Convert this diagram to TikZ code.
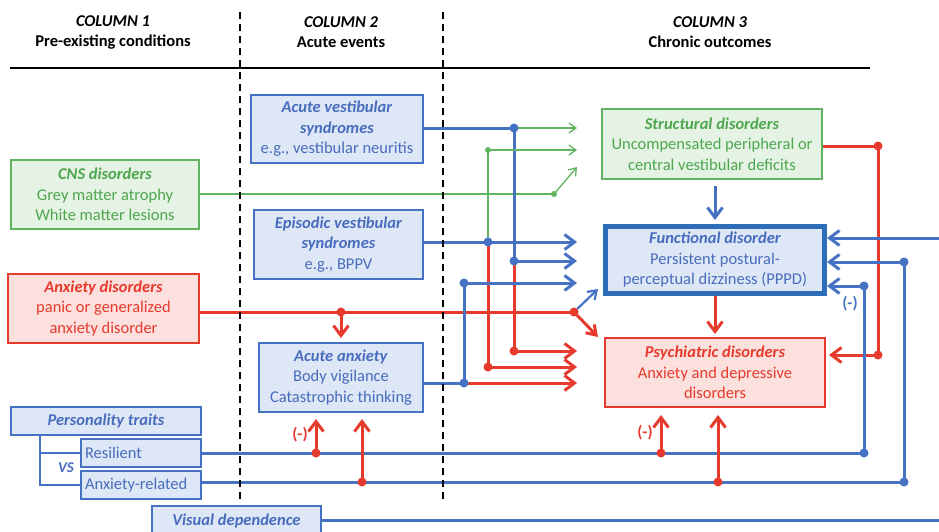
\documentclass[tikz,border=0pt]{standalone}
\usepackage{fontspec}
\setmainfont{Carlito}
\usetikzlibrary{arrows.meta}

\definecolor{lineblue}{RGB}{70,114,196}
\definecolor{fillblue}{RGB}{222,231,245}
\definecolor{textblue}{RGB}{72,108,190}
\definecolor{darkblue}{RGB}{46,110,184}
\definecolor{linered}{RGB}{230,58,45}
\definecolor{fillred}{RGB}{252,224,222}
\definecolor{linegreen}{RGB}{96,180,96}
\definecolor{fillgreen}{RGB}{228,243,228}
\definecolor{textgreen}{RGB}{78,166,78}

\begin{document}
\begin{tikzpicture}[x=1pt, y=-1pt]
  \useasboundingbox (0,0) rectangle (939,531);

  % Stile.
  \tikzstyle{box}=[rectangle, draw, line width=2pt, inner sep=0pt, align=center, font=\fontsize{16.5}{20.5}\selectfont]
  \tikzstyle{bluebox}=[box, draw=lineblue, fill=fillblue, text=textblue]
  \tikzstyle{redbox}=[box, draw=linered, fill=fillred, text=linered]
  \tikzstyle{greenbox}=[box, draw=linegreen, fill=fillgreen, text=textgreen]
  \tikzstyle{head}=[align=center, font=\fontsize{16.5}{20}\selectfont\bfseries]
  \tikzstyle{dot}=[circle, inner sep=0pt, minimum size=8pt]
  \tikzstyle{bdot}=[dot, fill=lineblue]
  \tikzstyle{rdot}=[dot, fill=linered]
  \tikzstyle{gdot}=[dot, fill=linegreen, minimum size=5pt]
  \tikzstyle{bline}=[draw=lineblue, line width=3pt]
  \tikzstyle{rline}=[draw=linered, line width=3pt]
  \tikzstyle{gline}=[draw=linegreen, line width=1.3pt]
  \tikzstyle{barrow}=[bline, -{Straight Barb[length=10pt, width=15pt]}]
  \tikzstyle{rarrow}=[rline, -{Straight Barb[length=10pt, width=15pt]}]
  \tikzstyle{garrow}=[gline, -{Straight Barb[length=7pt, width=10pt]}]
  \tikzstyle{minus}=[font=\fontsize{16.5}{18}\selectfont\bfseries]

  % Kopfzeile.
  \node[head] (c1) at (113,32) {\textit{COLUMN 1}\\Pre-existing conditions};
  \node[head] (c2) at (341,32) {\textit{COLUMN 2}\\Acute events};
  \node[head] (c3) at (710,32) {\textit{COLUMN 3}\\Chronic outcomes};
  \draw[line width=2.5pt] (10,68) -- (870,68);

  % Spalte 1.
  \node[greenbox, minimum width=188pt, minimum height=69pt] (cns) at (105,194.5)
    {\textit{\textbf{CNS disorders}}\\Grey matter atrophy\\White matter lesions};
  \node[redbox, minimum width=191pt, minimum height=69pt] (anx) at (103.5,308.5)
    {\textit{\textbf{Anxiety disorders}}\\panic or generalized\\anxiety disorder};
  \node[bluebox, minimum width=190pt, minimum height=28pt] (pers) at (106,421)
    {\textit{\textbf{Personality traits}}};
  \node[bluebox, minimum width=120pt, minimum height=28pt, align=left, text width=112pt] (res) at (141,453)
    {Resilient};
  \node[bluebox, minimum width=120pt, minimum height=28pt, align=left, text width=112pt] (anxrel) at (141,485)
    {Anxiety-related};
  \node[bluebox, minimum width=169pt, minimum height=30pt] (vis) at (236.5,521)
    {\textit{\textbf{Visual dependence}}};

  % Spalte 2.
  \node[bluebox, minimum width=172pt, minimum height=68pt] (avs) at (337,129)
    {\textit{\textbf{Acute vestibular}}\\\textit{\textbf{syndromes}}\\e.g., vestibular neuritis};
  \node[bluebox, minimum width=169pt, minimum height=69pt] (evs) at (338.5,244.5)
    {\textit{\textbf{Episodic vestibular}}\\\textit{\textbf{syndromes}}\\e.g., BPPV};
  \node[bluebox, minimum width=164pt, minimum height=69pt] (aca) at (341,377.5)
    {\textit{\textbf{Acute anxiety}}\\Body vigilance\\Catastrophic thinking};

  % Spalte 3.
  \node[greenbox, minimum width=220pt, minimum height=70pt] (str) at (712,144)
    {\textit{\textbf{Structural disorders}}\\Uncompensated peripheral or\\central vestibular deficits};
  \node[bluebox, draw=darkblue, line width=5pt, minimum width=219pt, minimum height=67pt] (fun) at (715,260)
    {\textit{\textbf{Functional disorder}}\\Persistent postural-\\perceptual dizziness (PPPD)};
  \node[redbox, minimum width=220pt, minimum height=69pt] (psy) at (715,372.5)
    {\textit{\textbf{Psychiatric disorders}}\\Anxiety and depressive\\disorders};

  % Knoten.
  \coordinate (tip) at (577,0);
  \coordinate (brk) at (40,0);
  \coordinate (edge) at (939,238);
  \coordinate (far) at (939,520);
  \coordinate (cnstip) at (577,167);
  \coordinate (funtip) at (598,289);
  \coordinate (psytip) at (598,337);
  \node[bdot] (j1) at (514,128) {};
  \node[bdot] (j2) at (514,261) {};
  \node[rdot] (j3) at (514,351) {};
  \node[bdot] (j4) at (488,242) {};
  \node[gdot] (j5) at (488,150) {};
  \node[rdot] (j6) at (488,367) {};
  \node[bdot] (j7) at (464,383) {};
  \node[bdot] (j8) at (464,283) {};
  \node[gdot] (j9) at (554,194) {};
  \node[rdot] (j10) at (574,312) {};
  \node[rdot] (j11) at (341,312) {};
  \node[rdot] (j12) at (878,146) {};
  \node[rdot] (j13) at (878,355) {};
  \node[bdot] (j14) at (904,262) {};
  \node[bdot] (j15) at (904,482) {};
  \node[bdot] (j16) at (864,286) {};
  \node[bdot] (j17) at (864,453) {};
  \node[rdot] (j18) at (316,453) {};
  \node[rdot] (j19) at (362,482) {};
  \node[rdot] (j20) at (661,453) {};
  \node[rdot] (j21) at (718,482) {};

  % Verbindungen links.
  \path[gline] (j9 -| cns.east) -- (j9);
  \draw[garrow] (j9) -- (cnstip);
  \path[rline] (j10 -| anx.east) -- (j10);
  \draw[rarrow, shorten >=4pt] (j11) -- (aca.north);
  \draw[barrow, line width=2.2pt, -{Straight Barb[length=8pt, width=11pt]}] (j10) -- (funtip);
  \draw[rarrow, -{Straight Barb[length=9pt, width=12pt]}] (j10) -- (psytip);

  \path[bline] (j1 -| avs.east) -- (j1);
  \draw[garrow] (j1) -- (j1 -| tip);
  \path[bline] (j1) -- (j2);
  \draw[barrow] (j2) -- (j2 -| tip);
  \path[rline] (j2) -- (j3);
  \draw[rarrow] (j3) -- (j3 -| tip);

  \path[bline] (j4 -| evs.east) -- (j4);
  \draw[barrow] (j4) -- (j4 -| tip);
  \path[gline] (j4) -- (j5);
  \draw[garrow] (j5) -- (j5 -| tip);
  \path[rline] (j4) -- (j6);
  \draw[rarrow] (j6) -- (j6 -| tip);

  \path[bline] (j7 -| aca.east) -- (j7);
  \draw[rarrow] (j7) -- (j7 -| tip);
  \path[bline] (j7) -- (j8);
  \draw[barrow] (j8) -- (j8 -| tip);

  % Verbindungen Spalte 3.
  \draw[barrow, shorten <=6pt, shorten >=4pt] (str.south -| fun.north) -- (fun.north);
  \draw[rarrow, shorten >=3pt] (fun.south) -- (psy.north);
  \path[rline] (j12 -| str.east) -- (j12) -- (j13);
  \draw[rarrow, shorten >=3pt] (j13) -- (j13 -| psy.east);
  \draw[barrow] (edge) -- (edge -| fun.east);
  \draw[barrow] (j14) -- (j14 -| fun.east);
  \path[bline] (j14) -- (j15);
  \draw[barrow] (j16) -- (j16 -| fun.east);
  \path[bline] (j16) -- (j17);
  \node[minus, text=lineblue] (m1) at (850,304) {(-)};

  % Persoenlichkeit.
  \path[bline, line width=2.5pt] (pers.south -| brk) -- (anxrel.west -| brk) -- (anxrel.west);
  \path[bline, line width=2.5pt] (res.west -| brk) -- (res.west);
  \node[text=textblue, font=\fontsize{15}{17}\selectfont\bfseries\itshape] (vs) at (66,468) {VS};
  \path[bline] (j17 -| res.east) -- (j17);
  \path[bline] (j15 -| anxrel.east) -- (j15);
  \path[bline] (far -| vis.east) -- (far);
  \draw[rarrow, shorten >=6pt] (j18) -- (j18 |- aca.south);
  \draw[rarrow, shorten >=6pt] (j19) -- (j19 |- aca.south);
  \draw[rarrow, shorten >=7pt] (j20) -- (j20 |- psy.south);
  \draw[rarrow, shorten >=7pt] (j21) -- (j21 |- psy.south);
  \node[minus, text=linered] (m2) at (300,435) {(-)};
  \node[minus, text=linered] (m3) at (645,433) {(-)};

  % Punkte oben.
  \foreach \j in {j1,j2,j4,j7,j8,j14,j15,j16,j17}
    \fill[lineblue] (\j) circle (4.5pt);
  \foreach \j in {j3,j6,j10,j11,j12,j13,j18,j19,j20,j21}
    \fill[linered] (\j) circle (4.5pt);
  \foreach \j in {j5,j9}
    \fill[linegreen] (\j) circle (3pt);

  % Trennlinien.
  \draw[dashed, dash pattern=on 7pt off 5pt, line width=2.2pt] (240,12) -- (240,502);
  \draw[dashed, dash pattern=on 7pt off 5pt, line width=2.2pt] (443,12) -- (443,502);
\end{tikzpicture}
\end{document}
